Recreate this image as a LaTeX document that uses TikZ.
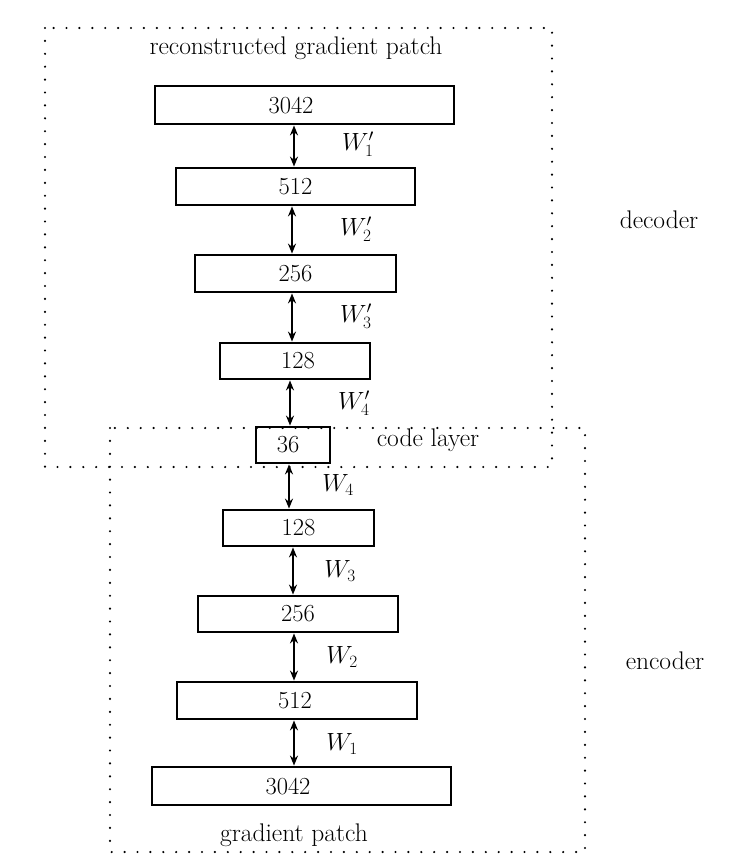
\documentclass[tikz,border=0pt]{standalone}
\usetikzlibrary{arrows.meta}
\begin{document}
\begin{tikzpicture}[x=1pt,y=-1pt,
  lay/.style={draw,line width=2.8pt,inner sep=0pt,anchor=center,font=\fontsize{24.5}{29}\selectfont},
  lbl/.style={font=\fontsize{25.5}{30}\selectfont,inner sep=0pt},
  dotbox/.style={line width=2.4pt,line cap=round,dash pattern=on 0pt off 12.9pt},
  conn/.style={line width=2.4pt,{Stealth[length=10pt,width=8pt]}-{Stealth[length=10pt,width=8pt]}}]
\useasboundingbox (0,0) rectangle (751,867);
\draw[dotbox] (45,28) rectangle (552,467);
\draw[dotbox] (110,428) rectangle (585,852);
% decoder layers
\node[lay,minimum width=299pt,minimum height=38pt] (d1) at (304.5,105) {3042\hspace*{27pt}};
\node[lay,minimum width=239pt,minimum height=37pt] (d2) at (295.5,186.5) {512};
\node[lay,minimum width=201pt,minimum height=37pt] (d3) at (295.5,273.5) {256};
\node[lay,minimum width=150pt,minimum height=36pt] (d4) at (295,361) {128\hspace*{-6pt}};
\node[lay,minimum width=74pt,minimum height=36pt] (c) at (293,445) {36\hspace*{10pt}};
% encoder layers
\node[lay,minimum width=151pt,minimum height=36pt] (e4) at (298.5,528) {128};
\node[lay,minimum width=200pt,minimum height=36pt] (e3) at (298,614) {256};
\node[lay,minimum width=240pt,minimum height=37pt] (e2) at (297,700.5) {512\hspace*{4pt}};
\node[lay,minimum width=299pt,minimum height=38pt] (e1) at (301.5,786) {3042\hspace*{27pt}};
% connectors
\draw[conn] (d1.south -| 294,0) -- (d2.north -| 294,0);
\draw[conn] (d2.south -| 292,0) -- (d3.north -| 292,0);
\draw[conn] (d3.south -| 292,0) -- (d4.north -| 292,0);
\draw[conn] (d4.south -| 290,0) -- (c.north -| 290,0);
\draw[conn] (c.south -| 289,0) -- (e4.north -| 289,0);
\draw[conn] (e4.south -| 293,0) -- (e3.north -| 293,0);
\draw[conn] (e3.south -| 294,0) -- (e2.north -| 294,0);
\draw[conn] (e2.south -| 294,0) -- (e1.north -| 294,0);
% weight labels
\node[lbl] (w1p) at (358,144) {$W_1'$};
\node[lbl] (w2p) at (356,229) {$W_2'$};
\node[lbl] (w3p) at (356,316) {$W_3'$};
\node[lbl] (w4p) at (354,403) {$W_4'$};
\node[lbl] (w4) at (338,485) {$W_4$};
\node[lbl] (w3) at (340,571) {$W_3$};
\node[lbl] (w2) at (342,657) {$W_2$};
\node[lbl] (w1) at (342,744) {$W_1$};
% texts
\node[lbl] (rec) at (296,48) {reconstructed gradient patch};
\node[lbl] (cl) at (428,440) {code layer};
\node[lbl] (dec) at (659,220) {decoder};
\node[lbl] (enc) at (665,661) {encoder};
\node[lbl] (gp) at (294,835) {gradient patch};
\end{tikzpicture}
\end{document}
